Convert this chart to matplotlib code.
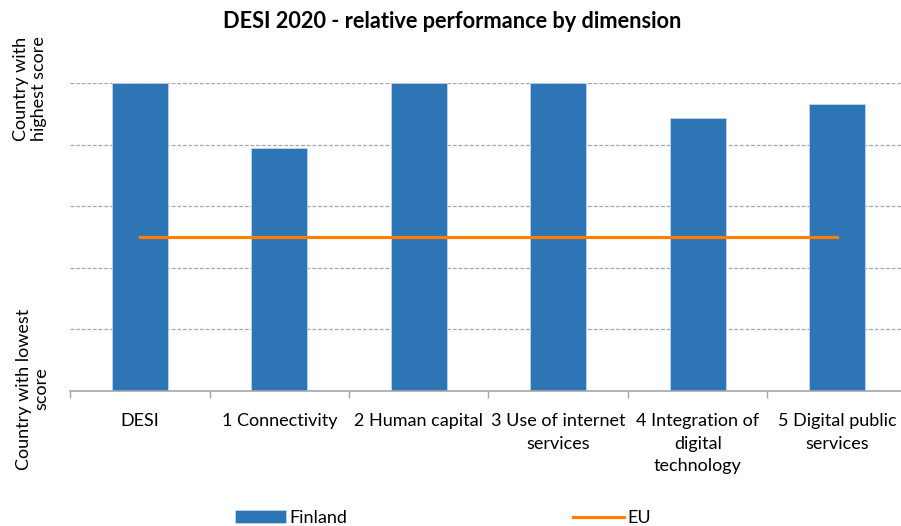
import matplotlib
matplotlib.use("Agg")
import matplotlib.pyplot as plt
import numpy as np

plt.rcParams['font.family'] = ['Lato', 'DejaVu Sans']

# data
categories = ['DESI', '1 Connectivity', '2 Human capital', '3 Use of internet\nservices',
              '4 Integration of\ndigital\ntechnology', '5 Digital public\nservices']
finland = [1.0, 0.788, 1.0, 1.0, 0.887, 0.932]
eu = [0.5, 0.5, 0.5, 0.5, 0.5, 0.5]
y_top_label = 'Country with\nhighest score'
y_bottom_label = 'Country with lowest\nscore'

fig = plt.figure(figsize=(9.01, 5.26), dpi=100)
ax = fig.add_axes([70 / 901, 1 - 391 / 526, 837 / 901, 308 / 526])

x = np.arange(len(categories))
bars = ax.bar(x, finland, width=0.4, color='#2E75B6', edgecolor='#BDD7EE', linewidth=0.6,
              label='Finland', zorder=2)
line, = ax.plot(x, eu, color='#FF7F00', linewidth=2.3, label='EU', zorder=3)

ax.set_xlim(-0.5, len(categories) - 0.5)
ax.set_ylim(0, 1)

# dashed grid
ax.set_yticks([0.2, 0.4, 0.6, 0.8, 1.0])
ax.set_yticklabels([])
ax.yaxis.grid(True, linestyle=(0, (3, 1.5)), color='#A6A6A6', linewidth=0.9)
ax.set_axisbelow(True)
ax.tick_params(axis='y', length=0)

# y "labels" at both ends
fig.text(30 / 901, 1 - 89 / 526, y_top_label, rotation=90, ha='center', va='center',
         fontsize=13, multialignment='center', linespacing=1.1)
fig.text(33 / 901, 1 - 389 / 526, y_bottom_label, rotation=90, ha='center', va='center',
         fontsize=13, multialignment='center', linespacing=1.1)

# category ticks on the boundaries
ax.set_xticks(x)
ax.set_xticklabels(categories, fontsize=13, linespacing=1.5)
ax.tick_params(axis='x', which='major', length=0, pad=16)
ax.set_xticks(np.arange(-0.5, len(categories), 1.0), minor=True)
ax.tick_params(axis='x', which='minor', length=5, color='#A6A6A6', width=1)

for s in ['left', 'right', 'top']:
    ax.spines[s].set_visible(False)
ax.spines['bottom'].set_color('#A6A6A6')
ax.spines['bottom'].set_linewidth(1.2)

fig.text(452 / 901, 1 - 21 / 526, 'DESI 2020 - relative performance by dimension',
         ha='center', va='center', fontsize=15.7, fontweight='bold')

fig.legend([bars, line], ['Finland', 'EU'], loc='center',
           bbox_to_anchor=(443 / 901, 1 - 518 / 526), ncol=2, frameon=False,
           fontsize=13, columnspacing=12.5, handlelength=2.8, handletextpad=0.2)

fig.savefig('out.png', dpi=100)
